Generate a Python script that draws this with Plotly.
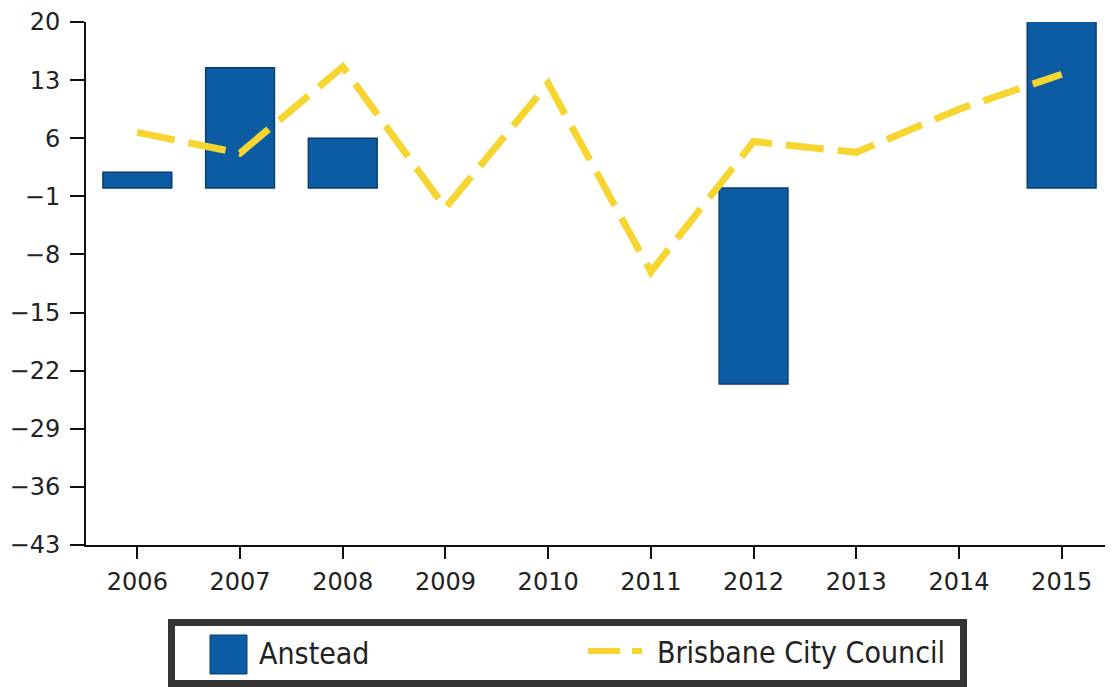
import plotly.graph_objects as go

# categories and values
years = ["2006", "2007", "2008", "2009", "2010", "2011", "2012", "2013", "2014", "2015"]
anstead = [1.9, 14.5, 6.0, None, None, None, -23.6, None, None, 21.5]
brisbane = [6.7, 4.2, 14.6, -2.4, 12.6, -10.1, 5.6, 4.3, 9.5, 13.7]
y_ticks = [20, 13, 6, -1, -8, -15, -22, -29, -36, -43]
series_names = ["Anstead", "Brisbane City Council"]

bar_colour = "#0b5ca3"
bar_edge = "#0a3d70"
line_colour = "#f6d531"
text_colour = "#222222"
font_family = "DejaVu Sans"
legend_font = "DejaVu Sans Condensed, DejaVu Sans"

#The page puts the figure 8px in from the top left corner
OFF = 8
W, H = 1113 - OFF, 687 - OFF
M = dict(l=86 - OFF, r=0, t=22 - OFF, b=142)

fig = go.Figure()

fig.add_trace(go.Bar(
	x=years, y=anstead, name=series_names[0],
	width=0.67, showlegend=False,
	marker=dict(color=bar_colour, line=dict(color=bar_edge, width=1.5))))

fig.add_trace(go.Scatter(
	x=years, y=brisbane, name=series_names[1],
	mode="lines", showlegend=False,
	line=dict(color=line_colour, width=7, dash="38px,14px")))

#Legend box drawn by hand so the swatches can be as big as the original
pw = W - M["l"] - M["r"]
ph = H - M["t"] - M["b"]

def px_x(x):
	return (x - OFF - M["l"]) / pw

def px_y(y):
	return (OFF + H - M["b"] - y) / ph

shapes = [
	dict(type="rect", xref="paper", yref="paper",
		x0=px_x(171.5), x1=px_x(963.5), y0=px_y(622.5), y1=px_y(683.5),
		line=dict(color="#353535", width=7), fillcolor="white"),
	dict(type="rect", xref="paper", yref="paper",
		x0=px_x(210), x1=px_x(247), y0=px_y(635), y1=px_y(674),
		line=dict(color=bar_edge, width=1), fillcolor=bar_colour),
	dict(type="line", xref="paper", yref="paper",
		x0=px_x(588), x1=px_x(642), y0=px_y(651), y1=px_y(651),
		line=dict(color=line_colour, width=6, dash="32px,12px")),
]

annotations = [
	dict(xref="paper", yref="paper", x=px_x(257), y=px_y(653),
		xanchor="left", yanchor="middle", showarrow=False,
		text=series_names[0], font=dict(family=legend_font, size=30, color=text_colour)),
	dict(xref="paper", yref="paper", x=px_x(655), y=px_y(652),
		xanchor="left", yanchor="middle", showarrow=False,
		text=series_names[1], font=dict(family=legend_font, size=30, color=text_colour)),
]

fig.update_layout(
	width=W, height=H,
	margin=M,
	paper_bgcolor="white", plot_bgcolor="white",
	font=dict(family=font_family, size=24, color=text_colour),
	showlegend=False,
	shapes=shapes,
	annotations=annotations)

fig.update_xaxes(
	type="category",
	range=[-0.5, 9.5],
	automargin=False,
	showline=True, linecolor="#111111", linewidth=2,
	ticks="outside", ticklen=12, tickwidth=2, tickcolor="#111111",
	ticklabelstandoff=2,
	showgrid=False, zeroline=False)

fig.update_yaxes(
	range=[-43, 20],
	tickvals=y_ticks,
	automargin=False,
	showline=True, linecolor="#111111", linewidth=2,
	ticks="outside", ticklen=14, tickwidth=2, tickcolor="#111111",
	ticklabelstandoff=5,
	showgrid=False, zeroline=False)

fig.write_html("out.html")
